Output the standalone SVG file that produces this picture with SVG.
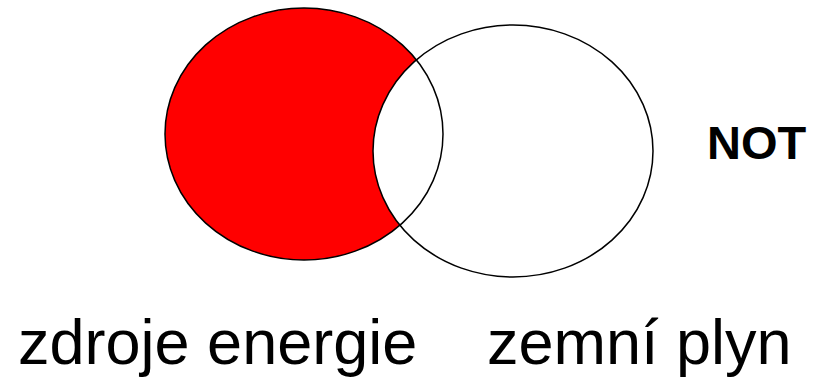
<svg xmlns="http://www.w3.org/2000/svg" width="820" height="377" viewBox="0 0 820 377">
<style>
.lbl{font-family:"Liberation Sans",Arial,sans-serif;font-size:63px;fill:#000}
.op{font-family:"Liberation Sans",Arial,sans-serif;font-size:47px;font-weight:bold;fill:#000}
.ol{fill:none;stroke:#000;stroke-width:1.5}
</style>
<rect width="820" height="377" fill="#fff"/>
<g id="set-a-fill"><ellipse cx="304" cy="134" rx="139" ry="126" fill="#f00"/></g>
<g id="set-b"><ellipse cx="513" cy="151" rx="140" ry="126" fill="#fff" stroke="#000" stroke-width="1.5"/></g>
<g id="set-a"><ellipse cx="304" cy="134" rx="139" ry="126" class="ol"/></g>
<g id="labels">
<text class="lbl" x="18" y="364">zdroje energie</text>
<text class="lbl" x="487" y="364">zemní plyn</text>
<text class="op" x="707" y="159">NOT</text>
</g>
</svg>
